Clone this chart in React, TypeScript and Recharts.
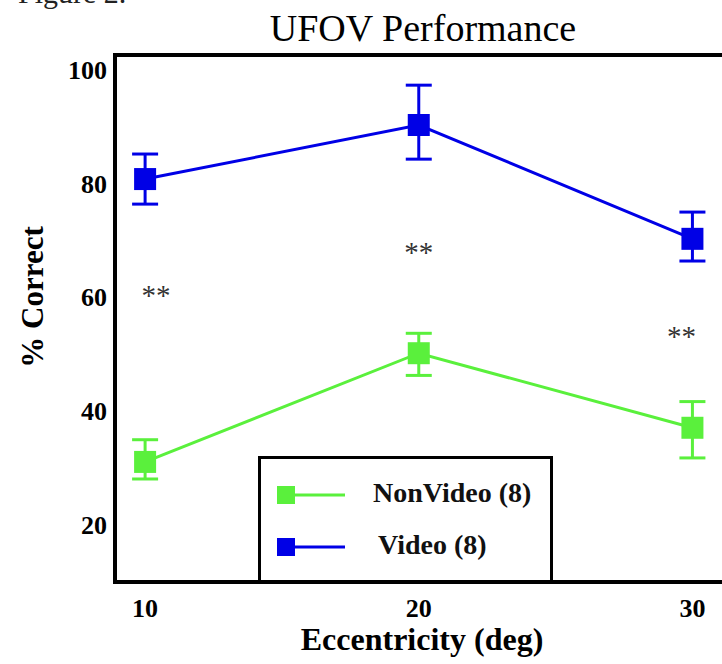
import React from 'react';
import { ComposedChart, Line, Scatter, XAxis, YAxis, ErrorBar, ReferenceArea, Legend } from 'recharts';

const eccentricities = [10, 20, 30];
const nonVideoValues = [31.1, 50.2, 37.1];
const nonVideoErrors = [[3.0, 3.9], [3.9, 3.5], [5.3, 4.6]];
const videoValues = [80.8, 90.3, 70.3];
const videoErrors = [[4.4, 4.4], [6.0, 7.0], [3.9, 4.7]];
const xTicks = [10, 20, 30];
const yTicks = [20, 40, 60, 80, 100];
const sigX = [10.4, 20, 29.6];
const sigY = [60.8, 68.4, 53.5];
const sigLabels = ['**', '**', '**'];
const seriesNames = ['NonVideo (8)', 'Video (8)'];

const X_DOMAIN: [number, number] = [8.9, 31.3];
const Y_DOMAIN: [number, number] = [10, 102.6];

const GREEN = '#5af03c';
const BLUE = '#0000e6';
const FONT = '"Liberation Serif", "Times New Roman", serif';

const data = eccentricities.map((x, i) => ({
  x,
  nonVideo: nonVideoValues[i],
  nonVideoErr: nonVideoErrors[i],
  video: videoValues[i],
  videoErr: videoErrors[i],
}));

const sigData = sigX.map((x, i) => ({ x, sig: sigY[i], label: sigLabels[i] }));

const squareDot = (color: string) => (p: any) => (
  <rect key={`d-${p.index}`} x={p.cx - 11} y={p.cy - 11} width={22} height={22} fill={color} />
);

const XTick = (p: any) => (
  <text x={p.x} y={p.y + 35} textAnchor="middle" fontFamily={FONT} fontWeight="bold" fontSize={26} fill="#000">
    {p.payload.value}
  </text>
);

const YTick = (p: any) => (
  <text x={p.x - 8} y={p.y + 9} textAnchor="end" fontFamily={FONT} fontWeight="bold" fontSize={26} fill="#000">
    {p.payload.value}
  </text>
);

const SigShape = (p: any) => (
  <text x={p.cx} y={p.cy + 12} textAnchor="middle" fontFamily={FONT} fontSize={29} fill="#333">
    {p.payload.label}
  </text>
);

const LegendContent = (props: any) => {
  const items = (props.payload || []).filter((it: any) => it.type !== 'none');
  return (
    <div
      style={{
        boxSizing: 'border-box',
        width: 295,
        height: 127,
        border: '3px solid #000',
        background: '#fff',
        position: 'relative',
        fontFamily: FONT,
      }}
    >
      {items.map((it: any, i: number) => (
        <div key={i} style={{ position: 'absolute', left: 0, top: 36 + i * 52, width: '100%', height: 0 }}>
          <svg width={80} height={22} style={{ position: 'absolute', left: 16, top: -11 }}>
            <rect x={0} y={2} width={18} height={18} fill={it.color} />
            <line x1={18} y1={11} x2={68} y2={11} stroke={it.color} strokeWidth={3} />
          </svg>
          <span
            style={{
              position: 'absolute',
              left: i === 0 ? 112 : 117,
              top: -18,
              fontSize: 28,
              fontWeight: 'bold',
              lineHeight: '32px',
              whiteSpace: 'nowrap',
              color: '#111',
            }}
          >
            {it.value}
          </span>
        </div>
      ))}
    </div>
  );
};

export default function App() {
  return (
    <div style={{ position: 'absolute', left: 0, top: 0, width: 722, height: 664, overflow: 'hidden', background: '#fff' }}>
      <ComposedChart
        width={746}
        height={664}
        data={data}
        margin={{ top: 55, right: 18, bottom: 22, left: 55 }}
        style={{ position: 'absolute', left: 0, top: 0 }}
      >
        <XAxis
          dataKey="x"
          type="number"
          domain={X_DOMAIN}
          ticks={xTicks}
          tick={XTick}
          tickLine={false}
          tickSize={0}
          tickMargin={0}
          axisLine={false}
          height={60}
          allowDataOverflow
        />
        <YAxis
          type="number"
          domain={Y_DOMAIN}
          ticks={yTicks}
          tick={YTick}
          tickLine={false}
          tickSize={0}
          tickMargin={0}
          axisLine={false}
          width={60}
          allowDataOverflow
        />
        <ReferenceArea
          x1={X_DOMAIN[0]}
          x2={X_DOMAIN[1]}
          y1={Y_DOMAIN[0]}
          y2={Y_DOMAIN[1]}
          fill="none"
          fillOpacity={0}
          stroke="#000"
          strokeWidth={4}
          ifOverflow="visible"
        />
        <Line
          dataKey="nonVideo"
          name={seriesNames[0]}
          stroke={GREEN}
          strokeWidth={3}
          dot={squareDot(GREEN)}
          isAnimationActive={false}
        >
          <ErrorBar dataKey="nonVideoErr" direction="y" width={13} stroke={GREEN} strokeWidth={3} isAnimationActive={false} />
        </Line>
        <Line
          dataKey="video"
          name={seriesNames[1]}
          stroke={BLUE}
          strokeWidth={3}
          dot={squareDot(BLUE)}
          isAnimationActive={false}
        >
          <ErrorBar dataKey="videoErr" direction="y" width={13} stroke={BLUE} strokeWidth={3} isAnimationActive={false} />
        </Line>
        <Scatter data={sigData} dataKey="sig" shape={SigShape} legendType="none" isAnimationActive={false} />
        <Legend
          layout="vertical"
          align="center"
          verticalAlign="middle"
          content={LegendContent}
          wrapperStyle={{ position: 'absolute', left: 258, top: 456, width: 295, height: 127 }}
        />
      </ComposedChart>
      <svg width={722} height={664} style={{ position: 'absolute', left: 0, top: 0, pointerEvents: 'none' }}>
        <text x={18} y={3} fontFamily={FONT} fontSize={30} fill="#222">Figure 2.</text>
        <text x={423} y={41} textAnchor="middle" fontFamily={FONT} fontSize={38} fill="#000">
          UFOV Performance
        </text>
        <text x={422} y={650} textAnchor="middle" fontFamily={FONT} fontWeight="bold" fontSize={32} fill="#000">
          Eccentricity (deg)
        </text>
        <text
          x={43}
          y={297}
          textAnchor="middle"
          fontFamily={FONT}
          fontWeight="bold"
          fontSize={31}
          fill="#000"
          transform="rotate(-90 43 297)"
        >
          % Correct
        </text>
      </svg>
    </div>
  );
}
